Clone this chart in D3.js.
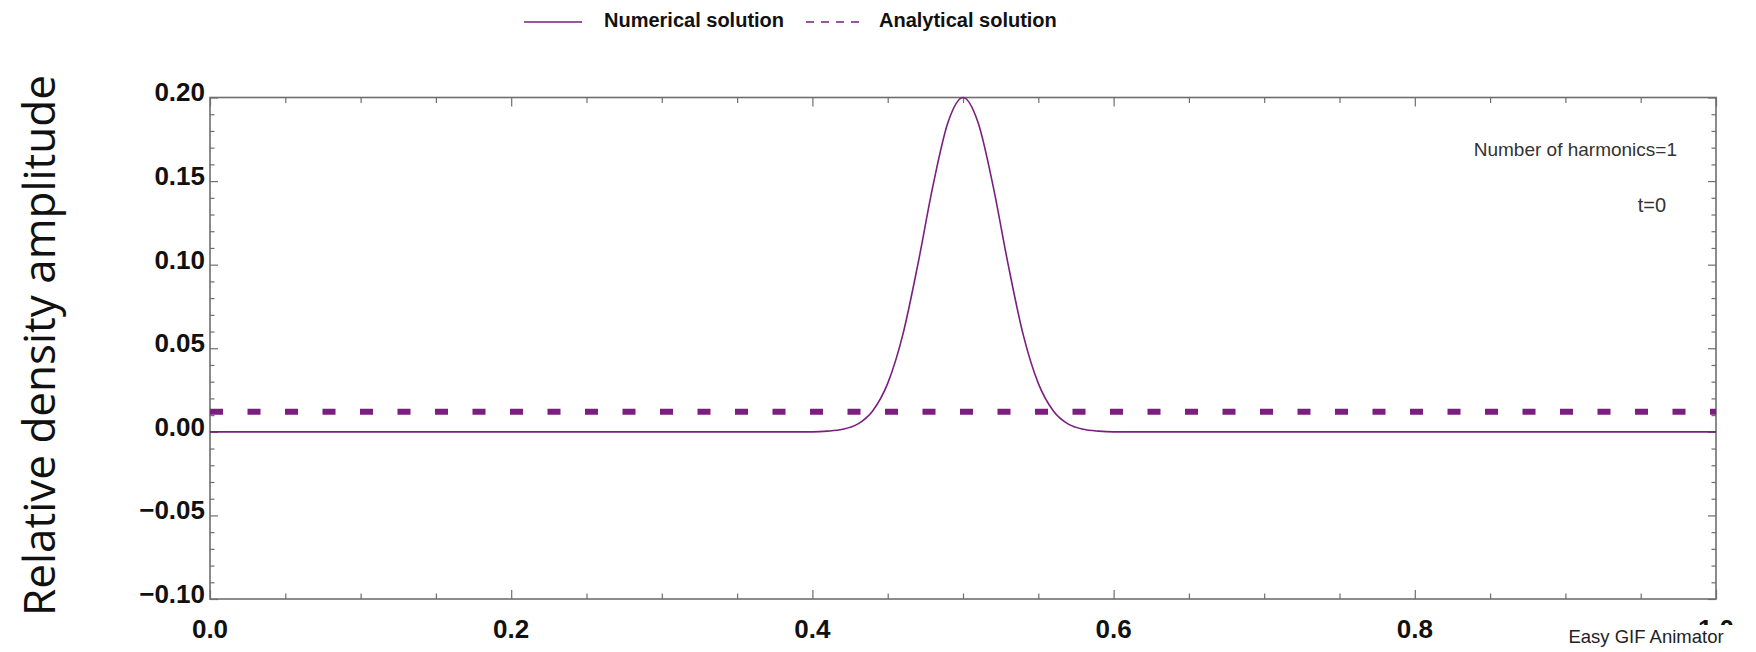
<!DOCTYPE html>
<html>
<head>
<meta charset="utf-8">
<script src="https://cdn.jsdelivr.net/npm/d3@7"></script>
<style>
  html, body { margin: 0; padding: 0; background: #fff; }
  svg { display: block; }
</style>
</head>
<body>
<div class="container"></div>
<script>
// 数据：横纵坐标刻度
const xTicks = [0.0, 0.2, 0.4, 0.6, 0.8, 1.0];
const yTicks = [-0.10, -0.05, 0.00, 0.05, 0.10, 0.15, 0.20];

// 数值解
const numX = [0, 0.40, 0.41, 0.42, 0.43, 0.44, 0.45, 0.46, 0.47, 0.48, 0.49, 0.50,
  0.51, 0.52, 0.53, 0.54, 0.55, 0.56, 0.57, 0.58, 0.59, 0.60, 1.0];
const numY = [0, 0, 0.0004, 0.0015, 0.0046, 0.0125, 0.029, 0.058, 0.100, 0.147, 0.185, 0.200,
  0.185, 0.147, 0.100, 0.058, 0.029, 0.0125, 0.0046, 0.0015, 0.0004, 0, 0];

// 解析解（水平虚线）
const anaX = [0, 1.0];
const anaY = [0.012, 0.012];

const legendNames = ["Numerical solution", "Analytical solution"];
const annotations = ["Number of harmonics=1", "t=0"];

const width = 1756, height = 652;
const margin = { top: 97.5, right: 40, bottom: 53, left: 210 };

const svg = d3.select(".container")
  .append("svg")
  .attr("width", width)
  .attr("height", height);

const x = d3.scaleLinear().domain([0, 1]).range([margin.left, width - margin.right]);
const y = d3.scaleLinear().domain([-0.10, 0.20]).range([height - margin.bottom, margin.top]);

const frameColor = "#6e6e6e";
const purple = "#7a1f7d";
const labelFont = "'Liberation Sans', Arial, sans-serif";

// 坐标轴
const fmtY = d3.format(".2f");
const fmtX = d3.format(".1f");
const minorX = d3.range(0, 1.0001, 0.05).filter(v => Math.abs(v * 5 - Math.round(v * 5)) > 1e-6);
const minorY = d3.range(-0.10, 0.2001, 0.01).filter(v => Math.abs(v * 20 - Math.round(v * 20)) > 1e-6);

function styleAxis(g) {
  g.select(".domain").remove();
  g.selectAll(".tick line").attr("stroke", frameColor).attr("stroke-width", 1.2);
}

// 左轴（刻度向内）
svg.append("g")
  .attr("transform", `translate(${margin.left},0)`)
  .call(d3.axisRight(y).tickValues(yTicks).tickSize(8).tickFormat(""))
  .call(styleAxis);
svg.append("g")
  .attr("transform", `translate(${margin.left},0)`)
  .call(d3.axisRight(y).tickValues(minorY).tickSize(4.5).tickFormat(""))
  .call(styleAxis);
// 右轴
svg.append("g")
  .attr("transform", `translate(${width - margin.right},0)`)
  .call(d3.axisLeft(y).tickValues(yTicks).tickSize(8).tickFormat(""))
  .call(styleAxis);
svg.append("g")
  .attr("transform", `translate(${width - margin.right},0)`)
  .call(d3.axisLeft(y).tickValues(minorY).tickSize(4.5).tickFormat(""))
  .call(styleAxis);
// 下轴
svg.append("g")
  .attr("transform", `translate(0,${height - margin.bottom})`)
  .call(d3.axisTop(x).tickValues(xTicks).tickSize(9).tickFormat(""))
  .call(styleAxis);
svg.append("g")
  .attr("transform", `translate(0,${height - margin.bottom})`)
  .call(d3.axisTop(x).tickValues(minorX).tickSize(5.5).tickFormat(""))
  .call(styleAxis);
// 上轴
svg.append("g")
  .attr("transform", `translate(0,${margin.top})`)
  .call(d3.axisBottom(x).tickValues(xTicks).tickSize(9).tickFormat(""))
  .call(styleAxis);
svg.append("g")
  .attr("transform", `translate(0,${margin.top})`)
  .call(d3.axisBottom(x).tickValues(minorX).tickSize(5.5).tickFormat(""))
  .call(styleAxis);

// 边框
svg.append("rect")
  .attr("x", x(0)).attr("y", y(0.20))
  .attr("width", x(1) - x(0)).attr("height", y(-0.10) - y(0.20))
  .attr("fill", "none").attr("stroke", frameColor).attr("stroke-width", 1.6);

// 刻度文字
svg.append("g")
  .selectAll("text")
  .data(yTicks)
  .join("text")
  .attr("x", margin.left - 5)
  .attr("y", d => y(d) - 3)
  .attr("text-anchor", "end")
  .attr("dominant-baseline", "middle")
  .style("font-family", labelFont)
  .style("font-weight", "bold")
  .style("font-size", "26px")
  .attr("fill", "#111")
  .text(d => fmtY(d));

svg.append("g")
  .selectAll("text")
  .data(xTicks)
  .join("text")
  .attr("x", d => x(d))
  .attr("y", 638)
  .attr("text-anchor", "middle")
  .style("font-family", labelFont)
  .style("font-weight", "bold")
  .style("font-size", "26px")
  .attr("fill", "#111")
  .text(d => fmtX(d));

// 曲线
const line = d3.line()
  .x(i => x(numX[i]))
  .y(i => y(numY[i]))
  .curve(d3.curveMonotoneX);

svg.append("path")
  .attr("d", line(d3.range(numX.length)))
  .attr("fill", "none")
  .attr("stroke", purple)
  .attr("stroke-width", 1.6);

const anaLine = d3.line()
  .x(i => x(anaX[i]))
  .y(i => y(anaY[i]));

svg.append("path")
  .attr("d", anaLine(d3.range(anaX.length)))
  .attr("fill", "none")
  .attr("stroke", purple)
  .attr("stroke-width", 6)
  .attr("stroke-dasharray", "13,24.5");

// 注释
svg.append("text")
  .attr("x", 1677).attr("y", 151)
  .attr("text-anchor", "end")
  .attr("dominant-baseline", "middle")
  .style("font-family", labelFont)
  .style("font-size", "19px")
  .attr("fill", "#333")
  .text(annotations[0]);
svg.append("text")
  .attr("x", 1666).attr("y", 207)
  .attr("text-anchor", "end")
  .attr("dominant-baseline", "middle")
  .style("font-family", labelFont)
  .style("font-size", "20px")
  .attr("fill", "#333")
  .text(annotations[1]);

// 图例
const legend = svg.append("g").attr("transform", "translate(524,22)");
legend.append("line")
  .attr("x1", 0).attr("x2", 58).attr("y1", 0).attr("y2", 0)
  .attr("stroke", purple).attr("stroke-width", 1.6);
legend.append("text")
  .attr("x", 80).attr("y", 0)
  .attr("dominant-baseline", "middle")
  .style("font-family", labelFont)
  .style("font-weight", "bold")
  .style("font-size", "20px")
  .attr("fill", "#111")
  .text(legendNames[0]);
legend.append("line")
  .attr("x1", 282).attr("x2", 338).attr("y1", 0).attr("y2", 0)
  .attr("stroke", purple).attr("stroke-width", 1.6)
  .attr("stroke-dasharray", "8,7");
legend.append("text")
  .attr("x", 355).attr("y", 0)
  .attr("dominant-baseline", "middle")
  .style("font-family", labelFont)
  .style("font-weight", "bold")
  .style("font-size", "20px")
  .attr("fill", "#111")
  .text(legendNames[1]);

// 纵轴标题
svg.append("text")
  .attr("transform", `translate(43,${(69 + 622) / 2}) rotate(-90)`)
  .attr("text-anchor", "middle")
  .attr("dominant-baseline", "middle")
  .style("font-family", "'Open Sans', 'Noto Sans', sans-serif")
  .style("font-size", "44px")
  .attr("fill", "#111")
  .text("Relative density amplitude");

// 水印
const wm = svg.append("g");
wm.append("rect")
  .attr("x", 1558).attr("y", 625).attr("width", 185).attr("height", 27)
  .attr("fill", "#fff");
wm.append("text")
  .attr("x", 1646).attr("y", 638)
  .attr("text-anchor", "middle")
  .attr("dominant-baseline", "middle")
  .style("font-family", labelFont)
  .style("font-size", "18.5px")
  .attr("fill", "#222")
  .text("Easy GIF Animator");
</script>
</body>
</html>
